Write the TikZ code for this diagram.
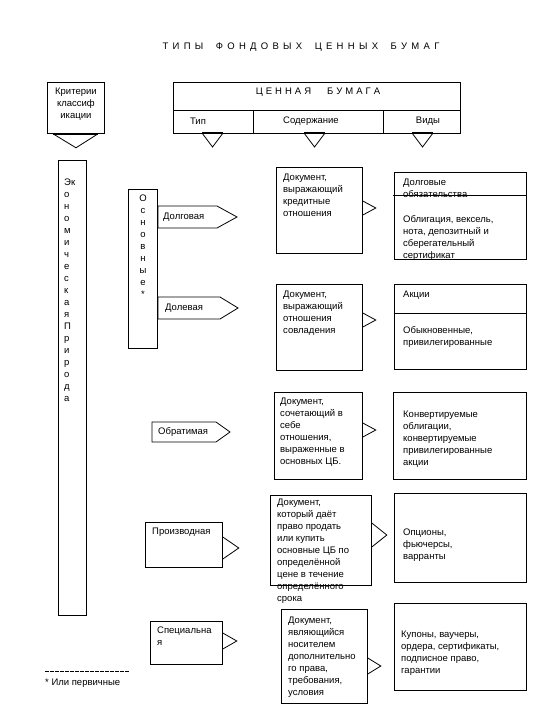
\documentclass[tikz,border=0pt]{standalone}
\usepackage{fontspec}
\setmainfont{Liberation Sans}
\usetikzlibrary{calc}
\begin{document}
\begin{tikzpicture}[x=1pt,y=-1pt,
  box/.style={draw, line width=0.8pt, inner sep=0pt, anchor=north west},
  txt/.style={inner sep=0pt, anchor=north west, align=left, font=\fontsize{9.5}{12}\selectfont},
  ctxt/.style={inner sep=0pt, align=center, font=\fontsize{9.5}{12}\selectfont},
  tri/.style={draw, line width=0.8pt, line join=miter},
  trithick/.style={draw, line width=2pt},
  pent/.style={draw, line width=0.8pt, line join=miter},
]
\useasboundingbox (0,0) rectangle (540,720);

% title
\node[ctxt] (title) at (301,47) {\spaceskip=4.3pt\relax Т И П Ы\hspace{12.5pt}Ф О Н Д О В Ы Х\hspace{12.5pt}Ц Е Н Н Ы Х\hspace{12.5pt}Б У М А Г};

% criteria box
\node[box, minimum width=57, minimum height=51] (crit) at (47,82) {};
\node[ctxt, anchor=north] (critt) at ($(crit.north)+(0,6)$) {Критерии\\классиф\\икации};
\coordinate (critL) at ($(crit.south west)+(6,0)$);
\coordinate (critR) at ($(crit.south west)+(51,0)$);
\coordinate (critA) at ($(crit.south west)+(29,14)$);
\draw[tri] (critL) -- (critA) -- (critR);
\draw[trithick] (critL) -- (critR);

% header box
\node[box, minimum width=287, minimum height=51] (head) at (173,82) {};
\coordinate (hl) at ($(head.north west)+(0,28)$);
\coordinate (hr) at ($(head.north east)+(0,28)$);
\draw[line width=0.8pt] (hl) -- (hr);
\coordinate (d1t) at ($(head.north west)+(80,28)$);
\coordinate (d2t) at ($(head.north west)+(210,28)$);
\draw[line width=0.8pt] (d1t) -- (d1t |- head.south);
\draw[line width=0.8pt] (d2t) -- (d2t |- head.south);
\node[ctxt] (headt) at (318,92) {\spaceskip=3pt\relax Ц Е Н Н А Я\hspace{16pt}Б У М А Г А};
\node[ctxt] (tip) at (198,121) {Тип};
\node[ctxt] (sod) at (311,121) {Содержание};
\node[ctxt] (vid) at (428,121) {Виды};

\foreach \n/\xa in {t1/202, t2/304, t3/412} {
  \coordinate (\n L) at (\xa,133);
  \coordinate (\n R) at (\xa+21,133);
  \coordinate (\n A) at (\xa+10.5,147);
  \draw[tri] (\n L) -- (\n A) -- (\n R);
  \draw[trithick] (\n L) -- (\n R);
}

% tall box
\node[box, minimum width=28, minimum height=455] (eco) at (58,160) {};
\node[txt] (ecot) at (64,179) {Эк\\о\\н\\о\\м\\и\\ч\\е\\с\\к\\а\\я\\П\\р\\и\\р\\о\\д\\а};

% osnovnye box
\node[box, minimum width=29, minimum height=159] (osn) at (128,189) {};
\node[ctxt, anchor=north] (osnt) at (143,195) {О\\с\\н\\о\\в\\н\\ы\\е\\*};

% pentagons
\draw[pent] (158,206) -- (217,206) -- (237,217) -- (217,228) -- (158,228) -- cycle;
\node[txt, anchor=west] (dolg) at (163,217) {Долговая};
\draw[pent] (158,297) -- (220,297) -- (238,308) -- (220,319) -- (158,319) -- cycle;
\node[txt, anchor=west] (dolev) at (165,308) {Долевая};
\draw[pent] (152,422) -- (216,422) -- (230,432) -- (216,442) -- (152,442) -- cycle;
\node[txt, anchor=west] (obr) at (158,432) {Обратимая};

% row 1
\node[box, minimum width=86, minimum height=86] (doc1) at (276,167) {};
\node[txt] (doc1t) at (283,174) {Документ,\\выражающий\\кредитные\\отношения};
\draw[tri] ($(doc1.north east)+(0,34)$) -- ++(13,7) -- ++(-13,7);
\node[box, minimum width=132, minimum height=87] (v1) at (394,172) {};
\node[txt] (v1t) at (403,179) {Долговые\\обязательства\\[1pt]\\Облигация, вексель,\\нота, депозитный и\\сберегательный\\сертификат};
\draw[line width=0.8pt] ($(v1.north west)+(-1,23)$) -- ($(v1.north east)+(-1,23)$);

% row 2
\node[box, minimum width=86, minimum height=86] (doc2) at (276,284) {};
\node[txt] (doc2t) at (283,291) {Документ,\\выражающий\\отношения\\совладения};
\draw[tri] ($(doc2.north east)+(0,29)$) -- ++(13,7) -- ++(-13,7);
\node[box, minimum width=132, minimum height=85] (v2) at (394,284) {};
\draw[line width=0.8pt] ($(v2.north west)+(0,29)$) -- ($(v2.north east)+(0,29)$);
\node[txt] (v2a) at (403,291) {Акции};
\node[txt] (v2t) at (403,326) {Обыкновенные,\\привилегированные};

% row 3
\node[box, minimum width=88, minimum height=87] (doc3) at (274,392) {};
\node[txt] (doc3t) at (280,398) {Документ,\\сочетающий в\\себе\\отношения,\\выраженные в\\основных ЦБ.};
\draw[tri] ($(doc3.north east)+(0,31)$) -- ++(13,7) -- ++(-13,7);
\node[box, minimum width=133, minimum height=87] (v3) at (393,392) {};
\node[txt] (v3t) at (403,411) {Конвертируемые\\облигации,\\конвертируемые\\привилегированные\\акции};

% row 4
\node[box, minimum width=77, minimum height=45] (proiz) at (145,522) {};
\node[txt] (proizt) at (152,528) {Производная};
\draw[tri] ($(proiz.north east)+(0,15)$) -- ++(16,11) -- ++(-16,11);
\node[box, minimum width=101, minimum height=90] (doc4) at (270,495) {};
\node[txt] (doc4t) at (277,499) {Документ,\\который даёт\\право продать\\или купить\\основные ЦБ по\\определённой\\цене в течение\\определённого\\срока};
\draw[tri] ($(doc4.north east)+(0,28)$) -- ++(15,12) -- ++(-15,12);
\node[box, minimum width=132, minimum height=89] (v4) at (394,493) {};
\node[txt] (v4t) at (403,529) {Опционы,\\фьючерсы,\\варранты};

% row 5
\node[box, minimum width=72, minimum height=43] (spec) at (150,621) {};
\node[txt] (spect) at (157,627) {Специальна\\я};
\draw[tri] ($(spec.north east)+(0,12)$) -- ++(14,8) -- ++(-14,8);
\node[box, minimum width=86, minimum height=94] (doc5) at (281,609) {};
\node[txt] (doc5t) at (288,617) {Документ,\\являющийся\\носителем\\дополнительно\\го права,\\требования,\\условия};
\draw[tri] ($(doc5.north east)+(0,49)$) -- ++(13,8) -- ++(-13,8);
\node[box, minimum width=132, minimum height=87] (v5) at (394,603) {};
\node[txt] (v5t) at (401,631) {Купоны, ваучеры,\\ордера, сертификаты,\\подписное право,\\гарантии};

% footnote
\coordinate (fnA) at (45,671);
\coordinate (fnB) at (130,671);
\draw[line width=0.7pt, dash pattern=on 3.5pt off 1.5pt] (fnA) -- (fnB);
\node[txt] (fn) at (45,679) {* Или первичные};
\end{tikzpicture}
\end{document}
